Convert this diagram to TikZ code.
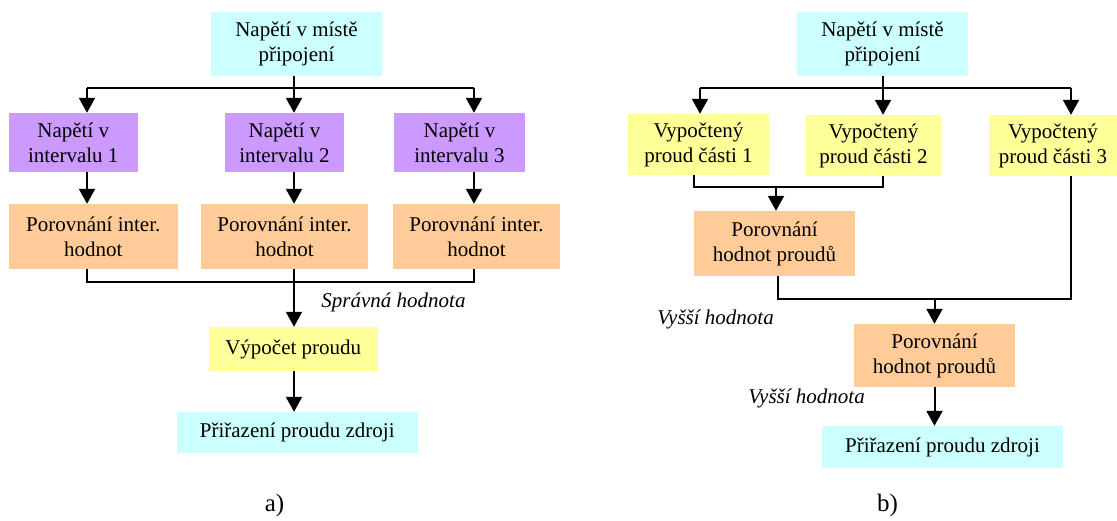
\documentclass[tikz,border=0pt]{standalone}
\usepackage{fontspec}
\setmainfont{Liberation Serif}
\usetikzlibrary{arrows.meta}
\definecolor{cyanbox}{HTML}{CCFFFF}
\definecolor{purplebox}{HTML}{CC99FF}
\definecolor{orangebox}{HTML}{FFCC99}
\definecolor{yellowbox}{HTML}{FFFF99}
\begin{document}
\begin{tikzpicture}[x=1pt,y=-1pt,
  box/.style={rectangle, inner sep=0pt, align=center, anchor=center,
    font=\fontsize{21}{25}\selectfont},
  lbl/.style={inner sep=0pt, anchor=center, font=\fontsize{21}{25}\selectfont\itshape},
  captionlbl/.style={inner sep=0pt, anchor=center, font=\fontsize{25}{30}\selectfont},
  ln/.style={line width=2pt},
  arr/.style={line width=2pt, -{Triangle[length=15pt,width=16pt]}}]
\useasboundingbox (0,0) rectangle (1117,520);

% ---------- a) ----------
\node[box, fill=cyanbox, minimum width=171pt, minimum height=64pt] (ta) at (296.5,44) {Napětí v místě\\připojení};
\node[box, fill=purplebox, minimum width=128.5pt, minimum height=59pt] (p1) at (73.25,142.5) {Napětí v\\intervalu 1};
\node[box, fill=purplebox, minimum width=119pt, minimum height=59pt] (p2) at (284.5,142.5) {Napětí v\\intervalu 2};
\node[box, fill=purplebox, minimum width=131pt, minimum height=59pt] (p3) at (459.5,142.5) {Napětí v\\intervalu 3};
\node[box, fill=orangebox, minimum width=168.5pt, minimum height=65pt] (o1) at (93.25,236.5) {Porovnání inter.\\hodnot};
\node[box, fill=orangebox, minimum width=167pt, minimum height=65pt] (o2) at (284.5,236.5) {Porovnání inter.\\hodnot};
\node[box, fill=orangebox, minimum width=167pt, minimum height=65pt] (o3) at (476.5,236.5) {Porovnání inter.\\hodnot};
\node[box, fill=yellowbox, minimum width=168.5pt, minimum height=44pt] (ya) at (293.25,349) {Výpočet proudu};
\node[box, fill=cyanbox, minimum width=240.5pt, minimum height=41pt] (ca) at (297.25,432.5) {Přiřazení proudu zdroji};
\node[lbl] (la) at (393.5,302) {Správná hodnota};
\node[captionlbl] (capa) at (274.5,505) {a)};

\coordinate (ja1) at (87,88);
\coordinate (ja2) at (294,88);
\coordinate (ja3) at (474,88);
\coordinate (ka1) at (87,282);
\coordinate (ka2) at (294,282);
\coordinate (ka3) at (474,282);

\draw[ln] (ja2 |- ta.south) -- (ja2);
\draw[ln] (ja1) -- (ja3);
\draw[arr] (ja1) -- (ja1 |- p1.north);
\draw[arr] (ja2) -- (ja2 |- p2.north);
\draw[arr] (ja3) -- (ja3 |- p3.north);
\draw[arr] (ja1 |- p1.south) -- (ja1 |- o1.north);
\draw[arr] (ja2 |- p2.south) -- (ja2 |- o2.north);
\draw[arr] (ja3 |- p3.south) -- (ja3 |- o3.north);
\draw[ln] (ka1 |- o1.south) -- (ka1) -- (ka3) -- (ka3 |- o3.south);
\draw[ln] (ka2 |- o2.south) -- (ka2);
\draw[arr] (ka2) -- (ka2 |- ya.north);
\draw[arr] (ka2 |- ya.south) -- (ka2 |- ca.north);

% ---------- b) ----------
\node[box, fill=cyanbox, minimum width=171pt, minimum height=64pt] (tb) at (882.5,44) {Napětí v místě\\připojení};
\node[box, fill=yellowbox, minimum width=141pt, minimum height=61pt] (y1) at (698.5,144.5) {Vypočtený\\proud části 1};
\node[box, fill=yellowbox, minimum width=135pt, minimum height=61pt] (y2) at (873.5,145.5) {Vypočtený\\proud části 2};
\node[box, fill=yellowbox, minimum width=128pt, minimum height=61pt] (y3) at (1053,145.5) {Vypočtený\\proud části 3};
\node[box, fill=orangebox, minimum width=161pt, minimum height=65pt] (ob1) at (774.5,243.5) {Porovnání\\hodnot proudů};
\node[box, fill=orangebox, minimum width=161pt, minimum height=63pt] (ob2) at (934.5,355.5) {Porovnání\\hodnot proudů};
\node[box, fill=cyanbox, minimum width=241pt, minimum height=42pt] (cb) at (942.5,447) {Přiřazení proudu zdroji};
\node[lbl] (lb1) at (715.5,319) {Vyšší hodnota};
\node[lbl] (lb2) at (806.5,398) {Vyšší hodnota};
\node[captionlbl] (capb) at (887.5,505) {b)};

\coordinate (jb1) at (700,88);
\coordinate (jb2) at (883,88);
\coordinate (jb3) at (1071,88);
\coordinate (mb1) at (694,187);
\coordinate (mb2) at (883,187);
\coordinate (mb) at (776,187);
\coordinate (nb1) at (778,299);
\coordinate (nb3) at (1071,299);
\coordinate (nb) at (934.5,299);

\draw[ln] (jb2 |- tb.south) -- (jb2);
\draw[ln] (jb1) -- (jb3);
\draw[arr] (jb1) -- (jb1 |- y1.north);
\draw[arr] (jb2) -- (jb2 |- y2.north);
\draw[arr] (jb3) -- (jb3 |- y3.north);
\draw[ln] (mb1 |- y1.south) -- (mb1) -- (mb2) -- (mb2 |- y2.south);
\draw[arr] (mb) -- (mb |- ob1.north);
\draw[ln] (nb1 |- ob1.south) -- (nb1) -- (nb3) -- (nb3 |- y3.south);
\draw[arr] (nb) -- (nb |- ob2.north);
\draw[arr] (nb |- ob2.south) -- (nb |- cb.north);
\end{tikzpicture}
\end{document}
